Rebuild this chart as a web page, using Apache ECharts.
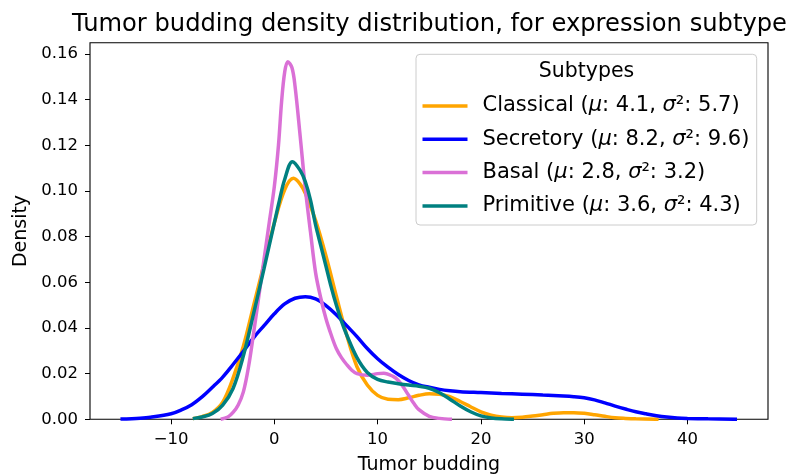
<!DOCTYPE html>
<html><head><meta charset="utf-8">
<script src="https://cdn.jsdelivr.net/npm/echarts@6/dist/echarts.min.js"></script>
<style>html,body{margin:0;padding:0;background:#fff}#c{width:790px;height:475px}</style>
</head><body><div id="c"></div>
<script>
// ---- data ----
const subtypeNames = ['Classical', 'Secretory', 'Basal', 'Primitive'];
const subtypeMu = [4.1, 8.2, 2.8, 3.6];
const subtypeVar = [5.7, 9.6, 3.2, 4.3];

const classicalX = [-7.9,-7,-6,-5,-4,-3,-2,-1,0,1,1.85,2.5,3,4,5,6,7,8,9,10,11,12,13,14,15,16,17,18,19,20,21,22,23,24,25,26,27,28,29,30,31,32,33,34,35,37.2];
const classicalY = [0.0003,0.0012,0.0030,0.0075,0.0180,0.0320,0.0500,0.0680,0.0860,0.1005,0.1055,0.1030,0.0990,0.0870,0.0715,0.0540,0.0370,0.0230,0.0150,0.0105,0.0088,0.0086,0.0094,0.0105,0.0112,0.0110,0.0099,0.0078,0.0055,0.0033,0.0018,0.0010,0.0007,0.0009,0.0014,0.0020,0.0026,0.0029,0.0029,0.0026,0.0020,0.0013,0.0007,0.0004,0.0002,0.0000];

const secretoryX = [-14.9,-13,-12,-10,-9,-8,-7,-6,-5,-4,-3,-2,-1,0,1,2,3,4,5,6,7,8,9,10,11,12,13,14,15,16,17,18,20,22,24,26,28,29,30,31,32,33,34,35,36,37,38,39,40,42,44.8];
const secretoryY = [0.0001,0.0005,0.0009,0.0024,0.0041,0.0064,0.0098,0.0140,0.0185,0.0240,0.0298,0.0358,0.0410,0.0462,0.0505,0.0530,0.0537,0.0527,0.0498,0.0458,0.0410,0.0362,0.0310,0.0265,0.0228,0.0196,0.0170,0.0151,0.0140,0.0131,0.0125,0.0121,0.0117,0.0113,0.0110,0.0106,0.0102,0.0099,0.0094,0.0085,0.0072,0.0058,0.0045,0.0033,0.0024,0.0016,0.0010,0.0006,0.0004,0.0002,0.0000];

const basalX = [-5.2,-4.5,-4,-3.5,-3,-2.5,-2,-1.5,-1,-0.5,0,0.4,0.7,1,1.3,1.7,2,2.5,3,3.5,4,4.5,5,5.5,6,6.5,7,7.5,8,9,10,10.6,11.5,12,12.5,13,13.5,14,15,16,17.2];
const basalY = [0.0000,0.0010,0.0030,0.0063,0.0120,0.0230,0.0380,0.0540,0.0700,0.0860,0.1020,0.1200,0.1390,0.1520,0.1566,0.1540,0.1460,0.1240,0.1010,0.0820,0.0640,0.0530,0.0440,0.0370,0.0310,0.0270,0.0240,0.0215,0.0200,0.0193,0.0200,0.0202,0.0188,0.0170,0.0140,0.0105,0.0070,0.0042,0.0013,0.0004,0.0000];

const primitiveX = [-7.9,-7,-6,-5,-4,-3,-2,-1,0,0.5,1,1.75,2.5,3,3.5,4,4.5,5,5.5,6,6.5,7,8,9,10,11,12,13,14,15,16,17,18,19,20,21,22,23.2];
const primitiveY = [0.0003,0.0010,0.0025,0.0062,0.0135,0.0278,0.0465,0.0660,0.0860,0.0960,0.1050,0.1128,0.1090,0.1040,0.0960,0.0850,0.0760,0.0670,0.0580,0.0500,0.0430,0.0370,0.0270,0.0205,0.0175,0.0163,0.0156,0.0150,0.0145,0.0136,0.0116,0.0088,0.0058,0.0033,0.0015,0.0006,0.0002,0.0000];

const xTicks = [-10, 0, 10, 20, 30, 40];
const yTicks = [0, 0.02, 0.04, 0.06, 0.08, 0.10, 0.12, 0.14, 0.16];

const titleText = 'Tumor budding density distribution, for expression subtype';
const xLabel = 'Tumor budding';
const yLabel = 'Density';
const legendTitle = 'Subtypes';

// ---- build ----
const FONT = 'DejaVu Sans';
const colors = ['#FFA500', '#0000FF', '#DA70D6', '#008080'];
const xs = [classicalX, secretoryX, basalX, primitiveX];
const ys = [classicalY, secretoryY, basalY, primitiveY];

const series = subtypeNames.map((n, k) => ({
  name: n,
  type: 'line',
  data: xs[k].map((x, i) => [x, ys[k][i]]),
  showSymbol: false,
  symbol: 'none',
  smooth: 0.35,
  lineStyle: { color: colors[k], width: 3.5 },
  itemStyle: { color: colors[k] },
  z: 2 + k,
  silent: true
}));

const fmtX = v => (v < 0 ? '\u2212' + Math.abs(v) : String(v));

const chart = echarts.init(document.getElementById('c'), null, { renderer: 'canvas' });
chart.setOption({
  animation: false,
  backgroundColor: '#ffffff',
  grid: { left: 90, right: 22, top: 42.7, bottom: 55.7, containLabel: false, outerBoundsMode: 'none', show: true, borderColor: '#000', borderWidth: 1.1, backgroundColor: 'transparent' },
  xAxis: {
    type: 'value', min: -17.85, max: 47.8,
    name: xLabel, nameLocation: 'middle', nameGap: 36,
    nameTextStyle: { fontFamily: FONT, fontSize: 19, color: '#000' },
    axisLine: { show: false, onZero: false },
    splitLine: { show: false },
    axisTick: { show: true, length: 5, lineStyle: { color: '#000', width: 1 }, customValues: xTicks },
    axisLabel: { fontFamily: FONT, fontSize: 16.5, color: '#000', margin: 12, customValues: xTicks, formatter: fmtX }
  },
  yAxis: {
    type: 'value', min: 0, max: 0.1649,
    name: yLabel, nameLocation: 'middle', nameGap: 57, nameRotate: 90,
    nameTextStyle: { fontFamily: FONT, fontSize: 19, color: '#000' },
    axisLine: { show: false, onZero: false },
    splitLine: { show: false },
    axisTick: { show: true, length: 5, lineStyle: { color: '#000', width: 1 }, customValues: yTicks },
    axisLabel: { fontFamily: FONT, fontSize: 16.5, color: '#000', margin: 12, customValues: yTicks, formatter: v => v.toFixed(2) }
  },
  legend: {
    orient: 'vertical', left: 422.5, top: 95.5, padding: 0, itemWidth: 45, itemHeight: 3.5, itemGap: 12.3,
    icon: 'rect', selectedMode: false, z: 10,
    data: subtypeNames,
    formatter: name => {
      const k = subtypeNames.indexOf(name);
      return '{n|' + name + ' (}{i|\u03bc}{n|: ' + subtypeMu[k].toFixed(1) + ', }{i|\u03c3}{n|\u00b2: ' + subtypeVar[k].toFixed(1) + ')}';
    },
    textStyle: {
      fontFamily: FONT, fontSize: 21, color: '#000', padding: [0, 0, 0, 10],
      rich: {
        n: { fontFamily: FONT, fontSize: 21, color: '#000' },
        i: { fontFamily: FONT, fontSize: 21, fontStyle: 'italic', color: '#000' }
      }
    }
  },
  graphic: [
    { type: 'rect', z: 5, shape: { x: 416, y: 54.3, width: 340.7, height: 170.7, r: 4 },
      style: { fill: 'rgba(255,255,255,0.8)', stroke: '#cccccc', lineWidth: 1 } },
    { type: 'text', z: 11, x: 586.5, y: 72,
      style: { text: legendTitle, font: '20.5px "DejaVu Sans"', fill: '#000', textAlign: 'center', align: 'center', textVerticalAlign: 'middle', verticalAlign: 'middle' } },
    { type: 'text', z: 11, x: 429.5, y: 24.7,
      style: { text: titleText, font: '24.2px "DejaVu Sans"', fill: '#000', textAlign: 'center', align: 'center', textVerticalAlign: 'middle', verticalAlign: 'middle' } }
  ],
  series: series
});
</script>
</body></html>
